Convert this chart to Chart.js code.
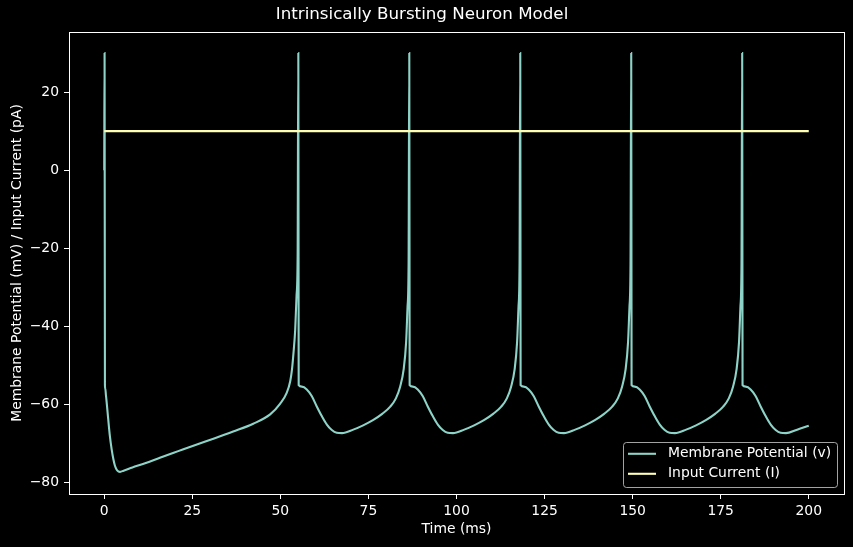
<!DOCTYPE html>
<html>
<head>
<meta charset="utf-8">
<script src="https://cdn.jsdelivr.net/npm/chart.js@4.4.0/dist/chart.umd.min.js"></script>
<style>
  html, body { margin: 0; padding: 0; background: #000; }
</style>
</head>
<body>
<canvas id="chart" width="853" height="547"></canvas>
<script>
// values
const timeMs = [
  0, 0.1, 0.2, 0.3, 0.5, 0.7, 1.1, 1.6, 2.1, 2.6, 3.0, 3.5, 4.0, 4.5, 5.5, 8, 11.6, 15.8, 21, 25.3, 31.4, 36.6, 42.3, 47.1, 49.9, 51.8,
  52.8, 53.3, 53.8, 54.2, 54.6, 54.9, 55.1, 55.2,
  56.1, 57.5, 58.9, 60.3, 61.8, 63.2, 64.6, 66.0, 67.5, 70.7, 73.5, 76.4, 79, 81.2, 82.8, 84, 85, 85.7, 86.1, 86.4, 86.6, 86.7,
  87.6, 89, 90.4, 91.8, 93.3, 94.7, 96.1, 97.5, 99, 102.2, 105, 107.9, 110.5, 112.7, 114.3, 115.5, 116.5, 117.2, 117.6, 117.9, 118.1, 118.2,
  119.1, 120.5, 121.9, 123.3, 124.8, 126.2, 127.6, 129, 130.5, 133.7, 136.5, 139.4, 142, 144.2, 145.8, 147, 148, 148.7, 149.1, 149.4, 149.6, 149.7,
  150.6, 152, 153.4, 154.8, 156.3, 157.7, 159.1, 160.5, 162, 165.2, 168, 170.9, 173.5, 175.7, 177.3, 178.5, 179.5, 180.2, 180.6, 180.9, 181.1, 181.2,
  182.1, 183.5, 184.9, 186.3, 187.8, 189.2, 190.6, 192, 193.5, 196.7, 200
];
const membraneV = [
  0, 30, -55, -55.9, -57.7, -59.5, -63.4, -68, -71.4, -74, -75.5, -76.6, -77.1, -77.2, -76.9, -76.1, -75.0, -73.6, -71.9, -70.5, -68.6, -66.9, -64.9, -62.5, -59.8, -57,
  -54, -51, -46, -41, -32, -22, 30, -55,
  -55.4, -56.1, -57.8, -60.4, -63, -65.1, -66.5, -67.2, -67.3, -66.4, -65.3, -63.9, -62.3, -60.5, -58.4, -55.4, -51, -44, -35, -24, 30, -55,
  -55.4, -56.1, -57.8, -60.4, -63, -65.1, -66.5, -67.2, -67.3, -66.4, -65.3, -63.9, -62.3, -60.5, -58.4, -55.4, -51, -44, -35, -24, 30, -55,
  -55.4, -56.1, -57.8, -60.4, -63, -65.1, -66.5, -67.2, -67.3, -66.4, -65.3, -63.9, -62.3, -60.5, -58.4, -55.4, -51, -44, -35, -24, 30, -55,
  -55.4, -56.1, -57.8, -60.4, -63, -65.1, -66.5, -67.2, -67.3, -66.4, -65.3, -63.9, -62.3, -60.5, -58.4, -55.4, -51, -44, -35, -24, 30, -55,
  -55.4, -56.1, -57.8, -60.4, -63, -65.1, -66.5, -67.2, -67.3, -66.4, -65.4
];
const currentT = [0, 200];
const currentI = [10, 10];
const xTicks = [0, 25, 50, 75, 100, 125, 150, 175, 200];
const yTicks = [-80, -60, -40, -20, 0, 20];

const FONT = 'DejaVu Sans';

// black page + white frame round the plot area + legend in the lower right
const darkFrame = {
  id: 'darkFrame',
  beforeDraw(chart) {
    const ctx = chart.ctx;
    ctx.save();
    ctx.fillStyle = '#000';
    ctx.fillRect(0, 0, chart.width, chart.height);
    ctx.restore();
  },
  afterDatasetsDraw(chart) {
    const ctx = chart.ctx, a = chart.chartArea;
    ctx.save();
    ctx.strokeStyle = '#fff';
    ctx.lineWidth = 1;
    const l = Math.round(a.left) + 0.5, t = Math.round(a.top) + 0.5;
    const r = Math.round(a.right) + 0.5, b = Math.round(a.bottom) + 0.5;
    ctx.strokeRect(l, t, r - l, b - t);

    // legend
    const boxW = 214, boxH = 45;
    const x0 = a.right - 7 - boxW, y0 = a.bottom - 7 - boxH;
    ctx.beginPath();
    ctx.roundRect(x0 + 0.5, y0 + 0.5, boxW, boxH, 3);
    ctx.fillStyle = 'rgba(0,0,0,0.8)';
    ctx.fill();
    ctx.strokeStyle = 'rgba(204,204,204,0.8)';
    ctx.lineWidth = 1;
    ctx.stroke();
    ctx.font = '13.9px "' + FONT + '"';
    ctx.textBaseline = 'middle';
    const items = [chart.data.datasets[0], chart.data.datasets[1]];
    items.forEach((ds, i) => {
      const cy = y0 + 11.8 + i * 20;
      ctx.strokeStyle = ds.borderColor;
      ctx.lineWidth = 2.1;
      ctx.beginPath();
      ctx.moveTo(x0 + 5, cy);
      ctx.lineTo(x0 + 33, cy);
      ctx.stroke();
      ctx.fillStyle = '#fff';
      ctx.fillText(ds.label, x0 + 45, cy);
    });
    ctx.restore();
  }
};

const minus = v => String(v).replace('-', '\u2212');

new Chart(document.getElementById('chart'), {
  type: 'line',
  data: {
    datasets: [
      {
        label: 'Membrane Potential (v)',
        data: timeMs.map((t, i) => ({x: t, y: membraneV[i]})),
        borderColor: '#8dd3c7',
        borderWidth: 2.1,
        pointRadius: 0,
        cubicInterpolationMode: 'monotone',
        order: 1
      },
      {
        label: 'Input Current (I)',
        data: currentT.map((t, i) => ({x: t, y: currentI[i]})),
        borderColor: '#feffb3',
        borderWidth: 2.1,
        pointRadius: 0,
        order: 0
      }
    ]
  },
  options: {
    responsive: false,
    animation: false,
    events: [],
    layout: { padding: { left: 0, right: 9, top: 0, bottom: 0 } },
    plugins: {
      legend: { display: false },
      tooltip: { enabled: false },
      title: {
        display: true,
        text: 'Intrinsically Bursting Neuron Model',
        color: '#fff',
        font: { family: FONT, size: 16.7, weight: 'normal' },
        padding: { top: 5, bottom: 7 }
      }
    },
    scales: {
      x: {
        type: 'linear',
        min: -10,
        max: 210,
        afterBuildTicks: s => { s.ticks = xTicks.map(v => ({value: v})); },
        afterFit: s => { s.height = 53; },
        grid: { drawOnChartArea: false, tickLength: 5, tickColor: '#fff', lineWidth: 1 },
        border: { display: false },
        ticks: { color: '#fff', padding: 4, maxRotation: 0, font: { family: FONT, size: 13.9 }, callback: v => minus(v) },
        title: {
          display: true, text: 'Time (ms)', color: '#fff',
          font: { family: FONT, size: 13.9 }, padding: { top: 0, bottom: 9 }
        }
      },
      y: {
        type: 'linear',
        min: -82.875,
        max: 35.375,
        afterBuildTicks: s => { s.ticks = yTicks.map(v => ({value: v})); },
        afterFit: s => { s.width = 69; },
        grid: { drawOnChartArea: false, tickLength: 5, tickColor: '#fff', lineWidth: 1 },
        border: { display: false },
        ticks: { color: '#fff', padding: 5, font: { family: FONT, size: 13.9 }, callback: v => minus(v) },
        title: {
          display: true, text: 'Membrane Potential (mV) / Input Current (pA)', color: '#fff',
          font: { family: FONT, size: 13.9 }, padding: { top: 9, bottom: 0 }
        }
      }
    }
  },
  plugins: [darkFrame]
});
</script>
</body>
</html>
